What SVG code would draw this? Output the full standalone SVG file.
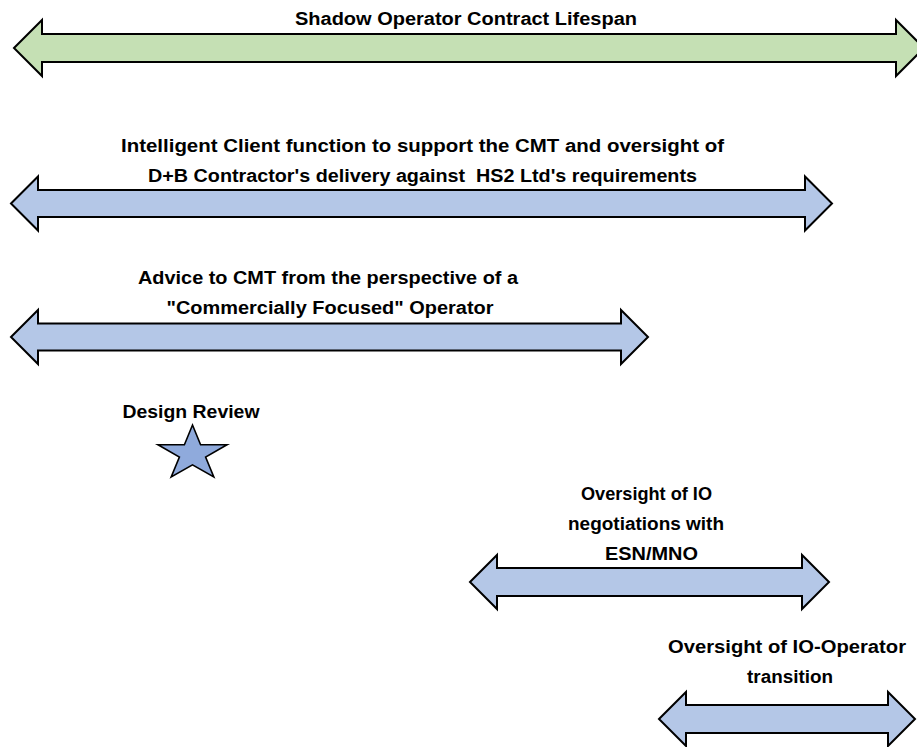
<svg xmlns="http://www.w3.org/2000/svg" width="917" height="747" viewBox="0 0 917 747">
<style>
text{font-family:"Liberation Sans",Arial,sans-serif;font-weight:bold;font-size:18px;fill:#000;text-anchor:middle;white-space:pre}
.arrow{stroke:#000;stroke-width:2;stroke-linejoin:miter}
.green{fill:#c5e0b4}
.blue{fill:#b4c7e7}
.star{fill:#8faadc;stroke:#000;stroke-width:1.6;stroke-linejoin:miter}
</style>
<rect width="917" height="747" fill="#fff"/>
<g id="lifespan">
<path class="arrow green" d="M14,48 L42,20 L42,34 L896,34 L896,20 L924,48 L896,76 L896,62 L42,62 L42,76 Z"/>
<text x="466" y="25" textLength="342" lengthAdjust="spacingAndGlyphs">Shadow Operator Contract Lifespan</text>
</g>
<g id="intelligent-client">
<path class="arrow blue" d="M11,203.5 L38,176.5 L38,190 L805,190 L805,176.5 L832,203.5 L805,230.5 L805,217 L38,217 L38,230.5 Z"/>
<text x="422.5" y="152" textLength="603" lengthAdjust="spacingAndGlyphs">Intelligent Client function to support the CMT and oversight of</text>
<text x="422.5" y="182" textLength="549" lengthAdjust="spacingAndGlyphs">D+B Contractor's delivery against  HS2 Ltd's requirements</text>
</g>
<g id="advice">
<path class="arrow blue" d="M11,337 L38,310 L38,323.5 L621,323.5 L621,310 L648,337 L621,364 L621,350.5 L38,350.5 L38,364 Z"/>
<text x="328" y="284" textLength="380" lengthAdjust="spacingAndGlyphs">Advice to CMT from the perspective of a</text>
<text x="330" y="314" textLength="327" lengthAdjust="spacingAndGlyphs">"Commercially Focused" Operator</text>
</g>
<g id="design-review">
<text x="191" y="418" textLength="137" lengthAdjust="spacingAndGlyphs">Design Review</text>
<polygon class="star" points="192.5,425 200.6,444.8 227,444.8 205.6,457 213.8,477 192.5,464.8 171.2,477 179.4,457 158,444.8 184.4,444.8"/>
</g>
<g id="esn-mno">
<path class="arrow blue" d="M470,582 L497,555 L497,568 L802,568 L802,555 L829,582 L802,609 L802,596 L497,596 L497,609 Z"/>
<text x="646.5" y="500" textLength="131" lengthAdjust="spacingAndGlyphs">Oversight of IO</text>
<text x="646" y="530" textLength="156" lengthAdjust="spacingAndGlyphs">negotiations with</text>
<text x="651.5" y="560" textLength="93" lengthAdjust="spacingAndGlyphs">ESN/MNO</text>
</g>
<g id="io-operator-transition">
<path class="arrow blue" d="M659,719 L686,692 L686,705 L888,705 L888,692 L915,719 L888,746 L888,733 L686,733 L686,746 Z"/>
<text x="787" y="653" textLength="238" lengthAdjust="spacingAndGlyphs">Oversight of IO-Operator</text>
<text x="790" y="683" textLength="86" lengthAdjust="spacingAndGlyphs">transition</text>
</g>
</svg>
